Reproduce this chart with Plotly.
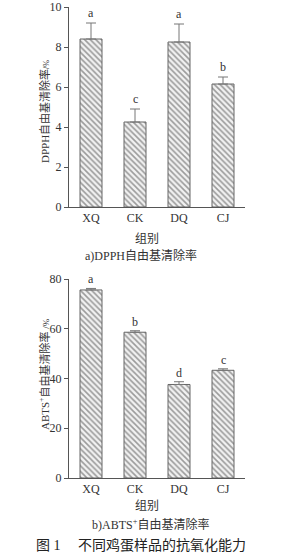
import plotly.graph_objects as go

groups = ["XQ", "CK", "DQ", "CJ"]
dpph = [8.4, 4.25, 8.25, 6.15]
dpph_err = [0.8, 0.65, 0.9, 0.35]
dpph_sig = ["a", "c", "a", "b"]
abts = [75.6, 58.6, 37.6, 43.3]
abts_err = [0.6, 0.6, 1.1, 0.6]
abts_sig = ["a", "b", "d", "c"]

FONT = "Liberation Serif, Times New Roman, Noto Sans CJK SC, serif"
TXT = "#333333"
AX = "#555555"

W, H = 284, 558
def py(px):
    return 1 - px / H
def pxx(px):
    return px / W

fig = go.Figure()

bar_style = dict(
    width=0.5,
    marker=dict(
        color="#ffffff",
        line=dict(color="#666666", width=1),
        pattern=dict(shape="\\", fgcolor="#444444", bgcolor="#f2f2f2", size=4, solidity=0.4),
    ),
    showlegend=False,
)

fig.add_trace(go.Bar(x=groups, y=dpph, xaxis="x", yaxis="y",
                     error_y=dict(type="data", array=dpph_err, arrayminus=[0]*4, symmetric=False,
                                  color="#777777", thickness=1, width=5),
                     **bar_style))
fig.add_trace(go.Bar(x=groups, y=abts, xaxis="x2", yaxis="y2",
                     error_y=dict(type="data", array=abts_err, arrayminus=[0]*4, symmetric=False,
                                  color="#777777", thickness=1, width=5),
                     **bar_style))

xdom = [pxx(69), pxx(245)]
axis_common = dict(showline=True, linecolor=AX, linewidth=1, showgrid=False, zeroline=False,
                   automargin=False, tickfont=dict(family=FONT, size=12, color=TXT))

fig.update_layout(
    width=W, height=H,
    margin=dict(l=0, r=0, t=0, b=0),
    paper_bgcolor="white", plot_bgcolor="white",
    xaxis=dict(domain=xdom, anchor="y", range=[-0.5, 3.5], ticks="", **axis_common),
    yaxis=dict(domain=[py(207), py(7)], anchor="x", range=[0, 10], tickvals=[0, 2, 4, 6, 8, 10],
               ticks="outside", ticklen=4, tickcolor=AX, **axis_common),
    xaxis2=dict(domain=xdom, anchor="y2", range=[-0.5, 3.5], ticks="", **axis_common),
    yaxis2=dict(domain=[py(478), py(279)], anchor="x2", range=[0, 80], tickvals=[0, 20, 40, 60, 80],
                ticks="outside", ticklen=4, tickcolor=AX, **axis_common),
)

ann = []
for g, v, e, s in zip(groups, dpph, dpph_err, dpph_sig):
    ann.append(dict(x=g, y=v + e, xref="x", yref="y", text=s, showarrow=False,
                    yanchor="bottom", yshift=1, font=dict(family=FONT, size=12, color=TXT)))
for g, v, e, s in zip(groups, abts, abts_err, abts_sig):
    ann.append(dict(x=g, y=v + e, xref="x2", yref="y2", text=s, showarrow=False,
                    yanchor="bottom", yshift=0, font=dict(family=FONT, size=12, color=TXT)))

def ptext(x, y, text, size, angle=0, color=TXT, xanchor="center"):
    return dict(x=pxx(x), y=py(y), xref="paper", yref="paper", text=text, showarrow=False,
                xanchor=xanchor, yanchor="middle", textangle=angle,
                font=dict(family=FONT, size=size, color=color))

ann.append(ptext(44, 112, "DPPH自由基清除率<span style='font-size:8px'>/%</span>", 11, -90))
ann.append(ptext(44, 374, "ABTS<sup>+</sup>自由基清除率 <span style='font-size:9px'>/%</span>", 11, -90))
ann.append(ptext(147, 239, "组别", 12))
ann.append(ptext(141, 255, "a)DPPH自由基清除率", 12))
ann.append(ptext(147, 506, "组别", 12))
ann.append(ptext(150, 524, "b)ABTS<sup>+</sup>自由基清除率", 12))
ann.append(ptext(34, 545, "图 1", 14, 0, "#222222", "left"))
ann.append(ptext(76, 545, "不同鸡蛋样品的抗氧化能力", 14, 0, "#222222", "left"))

fig.update_layout(annotations=ann)
fig.write_html("out.html")
